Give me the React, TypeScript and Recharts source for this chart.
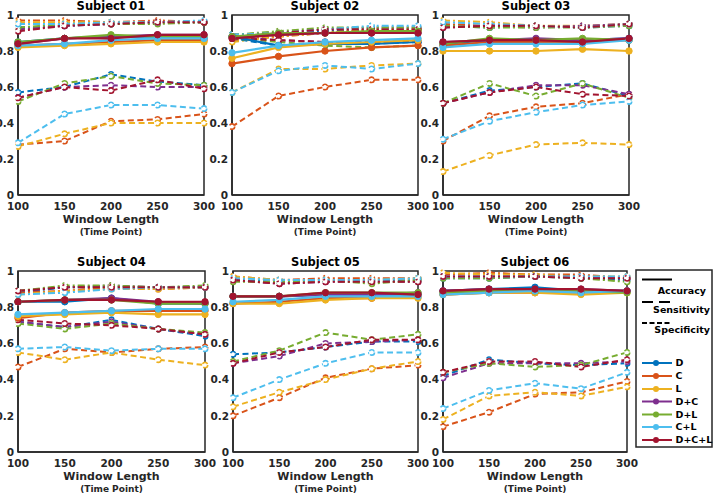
import React from "react";
import { LineChart, Line, XAxis, YAxis, ReferenceArea } from "recharts";

const windowLengths = [100, 150, 200, 250, 300];
const yTicks = [0, 0.2, 0.4, 0.6, 0.8, 1];
const combos = ["D", "C", "L", "D+C", "D+L", "C+L", "D+C+L"];
const comboColors = ["#0072BD", "#D95319", "#EDB120", "#7E2F8E", "#77AC30", "#4DBEEE", "#A2142F"];

type Metric = Record<string, number[]>;

// Subject 01
const s01Accuracy: Metric = {
  D: [0.85, 0.87, 0.88, 0.88, 0.87],
  C: [0.83, 0.84, 0.85, 0.86, 0.86],
  L: [0.82, 0.83, 0.84, 0.85, 0.85],
  "D+C": [0.84, 0.87, 0.88, 0.89, 0.89],
  "D+L": [0.85, 0.87, 0.89, 0.88, 0.88],
  "C+L": [0.83, 0.84, 0.86, 0.87, 0.87],
  "D+C+L": [0.84, 0.87, 0.87, 0.89, 0.89],
};
const s01Sensitivity: Metric = {
  D: [0.57, 0.6, 0.67, 0.63, 0.61],
  C: [0.28, 0.3, 0.41, 0.42, 0.45],
  L: [0.27, 0.34, 0.4, 0.4, 0.4],
  "D+C": [0.54, 0.6, 0.61, 0.6, 0.6],
  "D+L": [0.52, 0.62, 0.66, 0.62, 0.61],
  "C+L": [0.29, 0.45, 0.5, 0.5, 0.48],
  "D+C+L": [0.54, 0.6, 0.58, 0.64, 0.59],
};
const s01Specificity: Metric = {
  D: [0.93, 0.94, 0.95, 0.96, 0.96],
  C: [0.97, 0.97, 0.96, 0.97, 0.96],
  L: [0.96, 0.96, 0.96, 0.96, 0.96],
  "D+C": [0.92, 0.94, 0.95, 0.96, 0.96],
  "D+L": [0.93, 0.95, 0.95, 0.95, 0.96],
  "C+L": [0.95, 0.95, 0.96, 0.96, 0.97],
  "D+C+L": [0.91, 0.94, 0.95, 0.96, 0.96],
};

// Subject 02
const s02Accuracy: Metric = {
  D: [0.88, 0.83, 0.84, 0.84, 0.85],
  C: [0.73, 0.77, 0.8, 0.82, 0.83],
  L: [0.76, 0.82, 0.84, 0.85, 0.86],
  "D+C": [0.88, 0.89, 0.9, 0.9, 0.9],
  "D+L": [0.88, 0.9, 0.9, 0.91, 0.91],
  "C+L": [0.79, 0.83, 0.85, 0.86, 0.87],
  "D+C+L": [0.87, 0.89, 0.9, 0.9, 0.9],
};
const s02Sensitivity: Metric = {
  D: [0.87, 0.83, 0.84, 0.84, 0.85],
  C: [0.38, 0.55, 0.6, 0.64, 0.64],
  L: [0.57, 0.7, 0.7, 0.72, 0.73],
  "D+C": [0.88, 0.86, 0.85, 0.85, 0.86],
  "D+L": [0.87, 0.85, 0.83, 0.82, 0.83],
  "C+L": [0.57, 0.69, 0.72, 0.7, 0.73],
  "D+C+L": [0.87, 0.86, 0.85, 0.85, 0.85],
};
const s02Specificity: Metric = {
  D: [0.89, 0.9, 0.91, 0.92, 0.92],
  C: [0.86, 0.88, 0.9, 0.92, 0.92],
  L: [0.85, 0.88, 0.9, 0.92, 0.92],
  "D+C": [0.88, 0.9, 0.92, 0.93, 0.93],
  "D+L": [0.89, 0.91, 0.93, 0.93, 0.93],
  "C+L": [0.89, 0.9, 0.92, 0.94, 0.94],
  "D+C+L": [0.88, 0.9, 0.92, 0.92, 0.92],
};

// Subject 03
const s03Accuracy: Metric = {
  D: [0.84, 0.86, 0.86, 0.86, 0.87],
  C: [0.83, 0.85, 0.85, 0.85, 0.86],
  L: [0.8, 0.8, 0.8, 0.81, 0.8],
  "D+C": [0.85, 0.86, 0.87, 0.86, 0.87],
  "D+L": [0.84, 0.87, 0.86, 0.87, 0.86],
  "C+L": [0.82, 0.84, 0.84, 0.84, 0.86],
  "D+C+L": [0.85, 0.86, 0.86, 0.85, 0.87],
};
const s03Sensitivity: Metric = {
  D: [0.51, 0.58, 0.6, 0.62, 0.55],
  C: [0.3, 0.44, 0.49, 0.51, 0.56],
  L: [0.13, 0.22, 0.28, 0.29, 0.28],
  "D+C": [0.51, 0.57, 0.61, 0.61, 0.56],
  "D+L": [0.51, 0.62, 0.55, 0.62, 0.54],
  "C+L": [0.31, 0.41, 0.46, 0.5, 0.52],
  "D+C+L": [0.51, 0.57, 0.6, 0.56, 0.55],
};
const s03Specificity: Metric = {
  D: [0.94, 0.93, 0.94, 0.93, 0.94],
  C: [0.95, 0.94, 0.94, 0.93, 0.95],
  L: [0.97, 0.96, 0.94, 0.94, 0.95],
  "D+C": [0.93, 0.94, 0.93, 0.94, 0.95],
  "D+L": [0.94, 0.93, 0.93, 0.93, 0.94],
  "C+L": [0.96, 0.95, 0.94, 0.93, 0.95],
  "D+C+L": [0.93, 0.94, 0.94, 0.93, 0.95],
};

// Subject 04
const s04Accuracy: Metric = {
  D: [0.83, 0.83, 0.85, 0.82, 0.82],
  C: [0.74, 0.77, 0.78, 0.78, 0.78],
  L: [0.75, 0.76, 0.77, 0.76, 0.76],
  "D+C": [0.83, 0.84, 0.85, 0.83, 0.82],
  "D+L": [0.83, 0.84, 0.84, 0.82, 0.82],
  "C+L": [0.76, 0.77, 0.78, 0.79, 0.79],
  "D+C+L": [0.83, 0.84, 0.84, 0.83, 0.83],
};
const s04Sensitivity: Metric = {
  D: [0.72, 0.69, 0.73, 0.68, 0.64],
  C: [0.47, 0.57, 0.55, 0.57, 0.58],
  L: [0.55, 0.51, 0.55, 0.51, 0.48],
  "D+C": [0.72, 0.69, 0.72, 0.68, 0.65],
  "D+L": [0.71, 0.68, 0.71, 0.68, 0.66],
  "C+L": [0.57, 0.58, 0.56, 0.57, 0.57],
  "D+C+L": [0.73, 0.71, 0.7, 0.68, 0.65],
};
const s04Specificity: Metric = {
  D: [0.88, 0.91, 0.91, 0.91, 0.91],
  C: [0.88, 0.89, 0.91, 0.9, 0.91],
  L: [0.87, 0.89, 0.9, 0.9, 0.91],
  "D+C": [0.89, 0.91, 0.92, 0.91, 0.91],
  "D+L": [0.89, 0.92, 0.92, 0.91, 0.92],
  "C+L": [0.87, 0.88, 0.9, 0.91, 0.91],
  "D+C+L": [0.89, 0.91, 0.91, 0.91, 0.91],
};

// Subject 05
const s05Accuracy: Metric = {
  D: [0.86, 0.86, 0.87, 0.87, 0.87],
  C: [0.82, 0.83, 0.85, 0.85, 0.86],
  L: [0.82, 0.82, 0.84, 0.85, 0.85],
  "D+C": [0.86, 0.86, 0.87, 0.87, 0.88],
  "D+L": [0.86, 0.86, 0.88, 0.88, 0.88],
  "C+L": [0.83, 0.84, 0.86, 0.86, 0.86],
  "D+C+L": [0.86, 0.86, 0.88, 0.88, 0.87],
};
const s05Sensitivity: Metric = {
  D: [0.54, 0.55, 0.58, 0.61, 0.61],
  C: [0.2, 0.3, 0.41, 0.46, 0.48],
  L: [0.25, 0.33, 0.4, 0.46, 0.5],
  "D+C": [0.49, 0.53, 0.6, 0.61, 0.62],
  "D+L": [0.5, 0.56, 0.66, 0.62, 0.65],
  "C+L": [0.3, 0.4, 0.49, 0.55, 0.55],
  "D+C+L": [0.49, 0.55, 0.58, 0.62, 0.62],
};
const s05Specificity: Metric = {
  D: [0.95, 0.94, 0.95, 0.95, 0.95],
  C: [0.97, 0.95, 0.96, 0.96, 0.96],
  L: [0.97, 0.95, 0.95, 0.95, 0.96],
  "D+C": [0.95, 0.93, 0.94, 0.94, 0.94],
  "D+L": [0.94, 0.94, 0.95, 0.93, 0.95],
  "C+L": [0.96, 0.95, 0.95, 0.95, 0.96],
  "D+C+L": [0.95, 0.93, 0.94, 0.94, 0.94],
};

// Subject 06
const s06Accuracy: Metric = {
  D: [0.89, 0.9, 0.91, 0.89, 0.89],
  C: [0.87, 0.88, 0.88, 0.88, 0.89],
  L: [0.87, 0.88, 0.88, 0.87, 0.88],
  "D+C": [0.89, 0.9, 0.9, 0.9, 0.89],
  "D+L": [0.88, 0.89, 0.89, 0.89, 0.88],
  "C+L": [0.87, 0.88, 0.89, 0.88, 0.89],
  "D+C+L": [0.89, 0.9, 0.9, 0.9, 0.89],
};
const s06Sensitivity: Metric = {
  D: [0.42, 0.51, 0.49, 0.48, 0.49],
  C: [0.14, 0.22, 0.32, 0.33, 0.39],
  L: [0.18, 0.31, 0.33, 0.31, 0.36],
  "D+C": [0.41, 0.49, 0.49, 0.49, 0.5],
  "D+L": [0.44, 0.49, 0.47, 0.48, 0.55],
  "C+L": [0.24, 0.34, 0.38, 0.35, 0.44],
  "D+C+L": [0.44, 0.5, 0.5, 0.47, 0.51],
};
const s06Specificity: Metric = {
  D: [0.96, 0.96, 0.97, 0.96, 0.95],
  C: [0.98, 0.99, 0.98, 0.98, 0.96],
  L: [0.99, 0.98, 0.98, 0.97, 0.97],
  "D+C": [0.97, 0.97, 0.97, 0.97, 0.96],
  "D+L": [0.96, 0.96, 0.97, 0.96, 0.94],
  "C+L": [0.97, 0.97, 0.97, 0.97, 0.97],
  "D+C+L": [0.97, 0.97, 0.97, 0.96, 0.96],
};

const subjects = [
  { title: "Subject 01", acc: s01Accuracy, sens: s01Sensitivity, spec: s01Specificity, left: 18, top: 15, w: 186, h: 180 },
  { title: "Subject 02", acc: s02Accuracy, sens: s02Sensitivity, spec: s02Specificity, left: 232, top: 15, w: 186, h: 180 },
  { title: "Subject 03", acc: s03Accuracy, sens: s03Sensitivity, spec: s03Specificity, left: 443, top: 15, w: 186, h: 180 },
  { title: "Subject 04", acc: s04Accuracy, sens: s04Sensitivity, spec: s04Specificity, left: 18, top: 271, w: 187, h: 181 },
  { title: "Subject 05", acc: s05Accuracy, sens: s05Sensitivity, spec: s05Specificity, left: 233, top: 271, w: 185, h: 181 },
  { title: "Subject 06", acc: s06Accuracy, sens: s06Sensitivity, spec: s06Specificity, left: 443, top: 271, w: 184, h: 181 },
];

const ink = "#262626";
const font = "'DejaVu Sans', sans-serif";
const tickStyle = { fontSize: 10.5, fontWeight: 700, fill: ink, fontFamily: font };

const styles = {
  acc: { dash: undefined as string | undefined, width: 2.2 },
  sens: { dash: "6 3.5", width: 2 },
  spec: { dash: "7 3 2 3", width: 2 },
};

function SubPlot({ title, acc, sens, spec, left, top, w, h }: (typeof subjects)[number]) {
  const data = windowLengths.map((wl, i) => {
    const row: Record<string, number> = { wl };
    combos.forEach((c) => {
      row[`${c}_acc`] = acc[c][i];
      row[`${c}_sens`] = sens[c][i];
      row[`${c}_spec`] = spec[c][i];
    });
    return row;
  });
  const yw = 26;
  const mt = 4;
  const mr = 6;
  const metrics: ("spec" | "sens" | "acc")[] = ["spec", "sens", "acc"];
  return (
    <>
      <div
        style={{
          position: "absolute",
          left,
          width: w,
          top: top - 15,
          textAlign: "center",
          fontFamily: font,
          fontWeight: 700,
          fontSize: 11.5,
          color: "#000",
          lineHeight: "13px",
        }}
      >
        {title}
      </div>
      <div style={{ position: "absolute", left: left - yw, top: top - mt }}>
        <LineChart width={w + yw + mr} height={h + mt + 24} data={data} margin={{ top: mt, right: mr, left: 0, bottom: 0 }}>
          <XAxis
            dataKey="wl"
            type="number"
            domain={[100, 300]}
            ticks={windowLengths}
            interval={0}
            height={24}
            tick={tickStyle}
            tickLine={false}
            tickSize={4}
            tickMargin={4}
            axisLine={{ stroke: ink, strokeWidth: 1.5 }}
          />
          <YAxis
            type="number"
            domain={[0, 1]}
            ticks={yTicks}
            interval={0}
            width={yw}
            tick={tickStyle}
            tickLine={false}
            tickSize={3}
            tickMargin={1}
            tickFormatter={(v: number) => String(v)}
            axisLine={{ stroke: ink, strokeWidth: 1.5 }}
          />
          <ReferenceArea x1={100} x2={300} y1={0} y2={1} fill="none" stroke={ink} strokeWidth={1.5} ifOverflow="visible" />
          {metrics.map((m) =>
            combos.map((c, ci) => (
              <Line
                key={`${c}_${m}`}
                dataKey={`${c}_${m}`}
                type="linear"
                stroke={comboColors[ci]}
                strokeWidth={styles[m].width}
                strokeDasharray={styles[m].dash}
                dot={
                  m === "acc"
                    ? { r: 3.2, fill: comboColors[ci], stroke: comboColors[ci], strokeWidth: 1 }
                    : { r: 2.7, fill: "#fff", stroke: comboColors[ci], strokeWidth: 1.6 }
                }
                isAnimationActive={false}
              />
            ))
          )}
        </LineChart>
      </div>
      <div
        style={{
          position: "absolute",
          left,
          width: w,
          top: top + h + 18,
          textAlign: "center",
          fontFamily: font,
          fontWeight: 700,
          color: ink,
        }}
      >
        <div style={{ fontSize: 11, lineHeight: "13px" }}>Window Length</div>
        <div style={{ fontSize: 9, lineHeight: "13px" }}>(Time Point)</div>
      </div>
    </>
  );
}

function LegendBox() {
  const entryY = [363, 376, 389, 401.5, 414.5, 427, 440];
  const txt = { fontFamily: font, fontWeight: 700, fontSize: 9.5, fill: "#000" };
  return (
    <svg style={{ position: "absolute", left: 0, top: 0 }} width={713} height={495}>
      <rect x={636} y={270} width={76} height={177} fill="#fff" stroke={ink} strokeWidth={1.5} />
      <line x1={642} x2={672} y1={279.5} y2={279.5} stroke="#000" strokeWidth={2} />
      <text x={706} y={294} textAnchor="end" {...txt}>Accuracy</text>
      <line x1={642} x2={672} y1={302} y2={302} stroke="#000" strokeWidth={2} strokeDasharray="11 6" />
      <text x={710} y={312.5} textAnchor="end" {...txt}>Sensitivity</text>
      <line x1={642} x2={672} y1={323} y2={323} stroke="#000" strokeWidth={2} strokeDasharray="5 2.5" />
      <text x={710} y={332.5} textAnchor="end" {...txt}>Specificity</text>
      {combos.map((c, i) => (
        <g key={c}>
          <line x1={642} x2={672} y1={entryY[i]} y2={entryY[i]} stroke={comboColors[i]} strokeWidth={2} />
          <circle cx={656} cy={entryY[i]} r={3} fill={comboColors[i]} />
          <text x={675.5} y={entryY[i] + 3.4} {...txt}>{c}</text>
        </g>
      ))}
    </svg>
  );
}

export default function App() {
  return (
    <div style={{ position: "absolute", left: 0, top: 0, width: 713, height: 495, background: "#fff", overflow: "hidden" }}>
      <style>{`.recharts-surface { overflow: visible; } .recharts-wrapper { overflow: visible; }`}</style>
      {subjects.map((s) => (
        <SubPlot key={s.title} {...s} />
      ))}
      <LegendBox />
    </div>
  );
}
